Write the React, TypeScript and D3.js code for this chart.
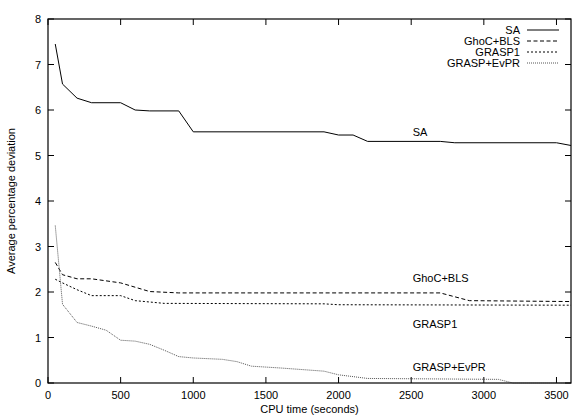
import React, { useEffect, useRef } from 'react';
import * as d3 from 'd3';

// CPU time (s) and average percentage deviation for each method
const saTime = [50, 100, 200, 300, 500, 600, 700, 900, 1000, 1900, 2000, 2100, 2200, 2700, 2800, 3500, 3600];
const saDev = [7.45, 6.57, 6.26, 6.16, 6.16, 6.0, 5.98, 5.98, 5.52, 5.52, 5.45, 5.45, 5.31, 5.31, 5.28, 5.28, 5.22];

const ghocTime = [50, 100, 200, 300, 500, 700, 900, 2700, 2900, 3600];
const ghocDev = [2.65, 2.38, 2.29, 2.29, 2.2, 2.01, 1.98, 1.98, 1.81, 1.79];

const grasp1Time = [50, 100, 200, 300, 500, 600, 800, 1900, 2000, 3600];
const grasp1Dev = [2.28, 2.2, 2.05, 1.92, 1.92, 1.81, 1.75, 1.74, 1.72, 1.71];

const evprTime = [50, 100, 200, 300, 400, 500, 600, 700, 800, 900, 1000, 1200, 1300, 1400, 1600, 1900, 2000, 2200, 3100, 3200, 3600];
const evprDev = [3.46, 1.73, 1.33, 1.25, 1.16, 0.94, 0.92, 0.85, 0.72, 0.58, 0.55, 0.52, 0.47, 0.37, 0.33, 0.26, 0.18, 0.1, 0.08, 0.0, 0.0];

const xTicks = [0, 500, 1000, 1500, 2000, 2500, 3000, 3500];
const yTicks = [0, 1, 2, 3, 4, 5, 6, 7, 8];

const seriesNames = ['SA', 'GhoC+BLS', 'GRASP1', 'GRASP+EvPR'];

const App = () => {
  const svgRef = useRef<SVGSVGElement>(null);

  useEffect(() => {
    const W = 573, H = 417;
    const margin = { top: 19, right: 2, bottom: 34, left: 48 };
    const width = W - margin.left - margin.right;
    const height = H - margin.top - margin.bottom;
    const font = 'Liberation Sans, Arial, Helvetica, sans-serif';

    const svgEl = d3.select(svgRef.current);
    svgEl.selectAll('*').remove();
    svgEl.attr('width', W).attr('height', H);

    svgEl.append('rect').attr('width', W).attr('height', H).attr('fill', '#fff');

    const svg = svgEl.append('g').attr('transform', `translate(${margin.left},${margin.top})`);

    const x = d3.scaleLinear().domain([0, 3600]).range([0, width]);
    const y = d3.scaleLinear().domain([0, 8]).range([height, 0]);

    const tickLen = 6;

    // ticks (inward, mirrored)
    xTicks.forEach(t => {
      svg.append('line').attr('x1', x(t)).attr('x2', x(t)).attr('y1', height).attr('y2', height - tickLen)
        .attr('stroke', '#000').attr('stroke-width', 1);
      svg.append('line').attr('x1', x(t)).attr('x2', x(t)).attr('y1', 0).attr('y2', tickLen)
        .attr('stroke', '#000').attr('stroke-width', 1);
      svg.append('text').attr('x', x(t)).attr('y', height + 16).attr('text-anchor', 'middle')
        .attr('font-family', font).attr('font-size', '11px').attr('fill', '#000').text(t);
    });
    yTicks.forEach(t => {
      svg.append('line').attr('x1', 0).attr('x2', tickLen).attr('y1', y(t)).attr('y2', y(t))
        .attr('stroke', '#000').attr('stroke-width', 1);
      svg.append('line').attr('x1', width).attr('x2', width - tickLen).attr('y1', y(t)).attr('y2', y(t))
        .attr('stroke', '#000').attr('stroke-width', 1);
      svg.append('text').attr('x', -7).attr('y', y(t) + 4).attr('text-anchor', 'end')
        .attr('font-family', font).attr('font-size', '11px').attr('fill', '#000').text(t);
    });

    const series = [
      { name: seriesNames[0], t: saTime, v: saDev, dash: null, color: '#000', w: 1 },
      { name: seriesNames[1], t: ghocTime, v: ghocDev, dash: '4,2.5', color: '#000', w: 1 },
      { name: seriesNames[2], t: grasp1Time, v: grasp1Dev, dash: '2,2', color: '#000', w: 1 },
      { name: seriesNames[3], t: evprTime, v: evprDev, dash: '1,1', color: '#555', w: 1 },
    ];

    const line = d3.line<[number, number]>().x(d => x(d[0])).y(d => y(d[1]));

    series.forEach(s => {
      const pts: [number, number][] = s.t.map((t, i) => [t, s.v[i]]);
      const p = svg.append('path').datum(pts).attr('fill', 'none')
        .attr('stroke', s.color).attr('stroke-width', s.w).attr('d', line);
      if (s.dash) p.attr('stroke-dasharray', s.dash);
    });

    // in-plot labels
    const labels = [
      { text: seriesNames[0], t: 2510, v: 5.52 },
      { text: seriesNames[1], t: 2510, v: 2.31 },
      { text: seriesNames[2], t: 2510, v: 1.3 },
      { text: seriesNames[3], t: 2510, v: 0.36 },
    ];
    labels.forEach(l => {
      svg.append('text').attr('x', x(l.t)).attr('y', y(l.v) + 4)
        .attr('font-family', font).attr('font-size', '11px').attr('fill', '#000').text(l.text);
    });

    // legend
    series.forEach((s, i) => {
      const ly = 11 + i * 11;
      svg.append('text').attr('x', 472).attr('y', ly + 4).attr('text-anchor', 'end')
        .attr('font-family', font).attr('font-size', '11px').attr('fill', '#000').text(s.name);
      const l = svg.append('line').attr('x1', 479).attr('x2', 511).attr('y1', ly).attr('y2', ly)
        .attr('stroke', s.color).attr('stroke-width', s.w);
      if (s.dash) l.attr('stroke-dasharray', s.dash);
    });

    // frame
    svg.append('rect').attr('x', 0).attr('y', 0).attr('width', width).attr('height', height)
      .attr('fill', 'none').attr('stroke', '#000').attr('stroke-width', 1.2);

    // axis titles
    svg.append('text').attr('x', width / 2).attr('y', height + 30).attr('text-anchor', 'middle')
      .attr('font-family', font).attr('font-size', '11px').attr('fill', '#000').text('CPU time (seconds)');
    svg.append('text').attr('transform', `translate(${-margin.left + 15},${height / 2}) rotate(-90)`)
      .attr('text-anchor', 'middle')
      .attr('font-family', font).attr('font-size', '11px').attr('fill', '#000').text('Average percentage deviation');
  }, []);

  return (
    <div style={{ position: 'absolute', left: 0, top: 0 }}>
      <svg ref={svgRef} style={{ display: 'block' }}></svg>
    </div>
  );
};

export default App;
